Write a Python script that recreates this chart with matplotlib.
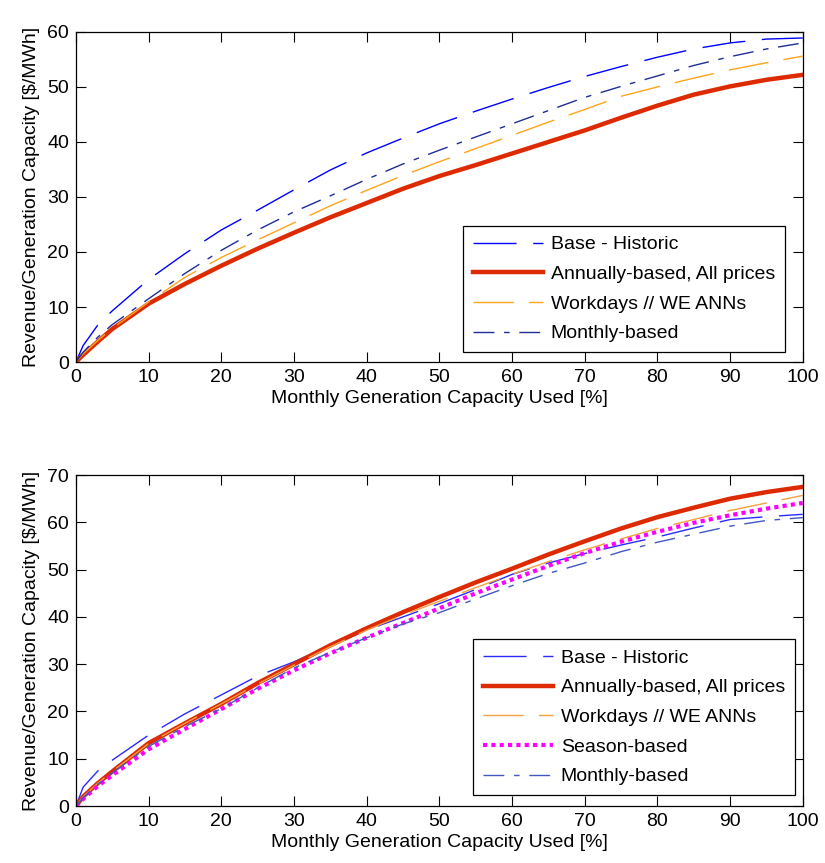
import matplotlib
matplotlib.use("Agg")
import matplotlib.pyplot as plt

plt.rcParams["font.family"] = ["Liberation Sans", "DejaVu Sans"]
plt.rcParams["font.size"] = 14

# capacity used [%]
cap = [0, 1, 3, 5, 10, 15, 20, 25, 30, 35, 40, 45, 50, 55, 60, 65, 70, 75, 80, 85, 90, 95, 100]

# top panel
top_base = [0, 3.0, 6.7, 9.3, 15.0, 19.7, 24.0, 27.6, 31.3, 34.9, 38.0, 40.7, 43.3, 45.6,
            47.8, 49.9, 51.9, 53.7, 55.4, 56.9, 58.0, 58.7, 58.9]
top_annual = [0, 1.3, 3.7, 6.0, 10.6, 14.2, 17.5, 20.6, 23.5, 26.3, 28.9, 31.5, 33.8, 35.8,
              37.9, 40.0, 42.1, 44.4, 46.6, 48.6, 50.1, 51.3, 52.2]
top_workdays = [0, 1.5, 3.9, 6.1, 10.9, 15.4, 19.0, 22.2, 25.3, 28.4, 31.2, 33.9, 36.4, 38.8,
                41.2, 43.6, 45.9, 48.3, 50.0, 51.6, 53.1, 54.4, 55.6]
top_monthly = [0, 1.8, 4.5, 6.8, 11.5, 16.1, 20.3, 24.0, 27.3, 30.2, 33.2, 36.0, 38.5, 40.9,
               43.3, 45.7, 48.1, 50.1, 52.0, 53.9, 55.5, 56.9, 58.0]

# bottom panel
bot_base = [0, 4.0, 7.4, 9.7, 15.0, 19.5, 23.5, 27.5, 30.5, 34.0, 37.2, 40.0, 42.8, 45.8,
            49.0, 51.4, 53.4, 55.2, 56.9, 58.8, 60.6, 61.2, 61.7]
bot_annual = [0, 2.0, 4.8, 7.3, 13.3, 17.5, 21.6, 26.0, 30.0, 34.0, 37.6, 41.0, 44.2, 47.3,
              50.2, 53.2, 56.0, 58.7, 61.1, 63.1, 65.0, 66.4, 67.5]
bot_workdays = [0, 2.0, 4.8, 7.3, 13.2, 17.5, 21.6, 25.8, 29.8, 33.7, 37.2, 40.4, 43.3, 46.2,
                49.0, 51.7, 54.2, 56.5, 58.7, 60.6, 62.5, 64.1, 65.7]
bot_season = [0, 1.5, 4.2, 6.5, 12.0, 16.3, 20.5, 24.8, 28.7, 32.3, 35.6, 38.7, 41.8, 45.0,
              47.9, 50.8, 53.5, 55.9, 58.0, 59.9, 61.5, 62.9, 64.1]
bot_monthly = [0, 1.8, 4.6, 7.0, 12.6, 16.8, 20.6, 25.0, 29.2, 32.5, 35.6, 38.5, 40.9, 43.8,
               46.6, 49.2, 51.4, 53.8, 55.8, 57.5, 59.2, 60.4, 61.0]

xlabel = "Monthly Generation Capacity Used [%]"
ylabel = r"Revenue/Generation Capacity [\$/MWh]"

fig = plt.figure(figsize=(8.25, 8.63), dpi=100)
ax1 = fig.add_axes([0.092, 0.5805, 0.881, 0.3825])
ax2 = fig.add_axes([0.092, 0.066, 0.881, 0.3835])


def style(ax, ymax):
    ax.set_xlim(0, 100)
    ax.set_ylim(0, ymax)
    ax.set_xticks(range(0, 101, 10))
    ax.set_yticks(range(0, ymax + 1, 10))
    ax.tick_params(direction="in", top=True, right=True, length=7, width=0.8,
                   labelsize=14, pad=5)
    for s in ax.spines.values():
        s.set_linewidth(0.9)
    ax.set_xlabel(xlabel, fontsize=14, labelpad=3)
    ax.set_ylabel(ylabel, fontsize=14, labelpad=5)


def legend(ax, anchor):
    leg = ax.legend(loc="lower right", bbox_to_anchor=anchor, fontsize=14,
                    handlelength=3.6, handletextpad=0.4, labelspacing=0.62,
                    borderpad=0.5, borderaxespad=0, fancybox=False,
                    framealpha=1, edgecolor="black")
    leg.get_frame().set_linewidth(0.9)


ax1.plot(cap, top_base, color="#0000ff", lw=1, dashes=(31, 12), label="Base - Historic")
ax1.plot(cap, top_annual, color="#dd2a00", lw=3.2, label="Annually-based, All prices")
ax1.plot(cap, top_workdays, color="#ffa31a", lw=1, dashes=(29, 11), label="Workdays // WE ANNs")
ax1.plot(cap, top_monthly, color="#1f2d96", lw=1, dashes=(15, 7, 4, 7), label="Monthly-based")
style(ax1, 60)
legend(ax1, (0.975, 0.03))

ax2.plot(cap, bot_base, color="#2a2aff", lw=1, dashes=(31, 12), label="Base - Historic")
ax2.plot(cap, bot_annual, color="#dd2a00", lw=3.2, label="Annually-based, All prices")
ax2.plot(cap, bot_workdays, color="#f0a040", lw=1, dashes=(29, 11), label="Workdays // WE ANNs")
ax2.plot(cap, bot_season, color="#ff00ff", lw=3, ls=(0, (1, 1)), label="Season-based")
ax2.plot(cap, bot_monthly, color="#4058c0", lw=1, dashes=(15, 7, 4, 7), label="Monthly-based")
style(ax2, 70)
legend(ax2, (0.989, 0.033))

fig.savefig("out.png", dpi=100)
